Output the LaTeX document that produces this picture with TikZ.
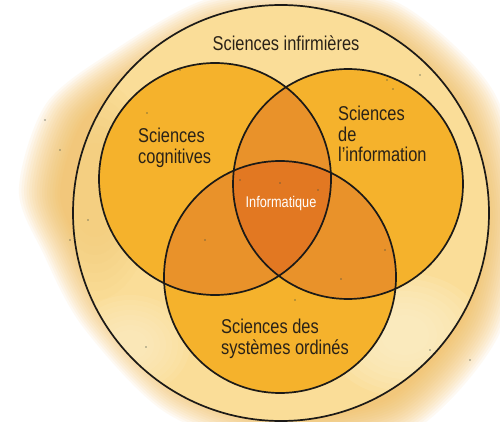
\documentclass[tikz,border=0pt]{standalone}
\usepackage{fontspec}
\newfontfamily\labfont[FakeStretch=0.82]{Liberation Sans}
\definecolor{ink}{HTML}{1C1A17}
\definecolor{labink}{HTML}{2A2218}
\definecolor{hazecol}{HTML}{F2BA52}
\definecolor{ringfill}{HTML}{FADD98}
\definecolor{ringlight}{HTML}{FDF1CC}
\definecolor{ringwarm}{HTML}{F4C36A}
\definecolor{onefill}{HTML}{F5B22C}
\definecolor{twofill}{HTML}{E9922A}
\definecolor{threefill}{HTML}{E27822}
\definecolor{speck}{HTML}{3E4A40}
\begin{document}
\begin{tikzpicture}[x=1pt,y=-1pt,
  outline/.style={draw=ink,line width=1.7pt},
  lab/.style={font=\labfont\fontsize{20}{20.5}\selectfont,text=labink,inner sep=0pt,align=left},
  core/.style={font=\labfont\fontsize{15.5}{16}\selectfont,text=white,inner sep=0pt},
  dot/.style={fill=speck,fill opacity=0.6}]
\useasboundingbox (0,0) rectangle (500,422);
\fill[white] (0,0) rectangle (500,422);

% circle centres
\coordinate (O) at (281,213);
\coordinate (A) at (215,179);
\coordinate (B) at (348,184);
\coordinate (C) at (280,277);

% watercolour wash around the outer circle, built up in thin layers
\begin{scope}[shift={(281,213)}]
  \foreach \s in {1.02,1.01,...,0.85}{
    \fill[hazecol,fill opacity=0.075,scale=\s]
      plot[smooth cycle] coordinates {(0:238) (30:245) (60:250) (90:235) (120:226)
        (150:224) (170:236) (185:258) (205:254) (225:228) (250:222) (275:222)
        (300:236) (330:240)};
  }
\end{scope}

% pale band inside the outer circle
\fill[ringfill] (O) circle[radius=208];
\begin{scope}
  \clip (O) circle[radius=208];
  \foreach \k in {0,...,7}{
    \fill[ringlight,fill opacity=0.16] (405,335) ellipse[x radius={80-8*\k},y radius={62-6*\k}];
    \fill[ringlight,fill opacity=0.12] (130,345) ellipse[x radius={60-6*\k},y radius={50-5*\k}];
    \fill[ringwarm,fill opacity=0.07] (95,190) ellipse[x radius={60-5*\k},y radius={110-9*\k}];
  }
\end{scope}

% filled regions
\fill[onefill] (A) circle[radius=116];
\fill[onefill] (B) circle[radius=115];
\fill[onefill] (C) circle[radius=116];
\begin{scope}
  \clip (A) circle[radius=116];
  \fill[twofill] (B) circle[radius=115];
  \fill[twofill] (C) circle[radius=116];
\end{scope}
\begin{scope}
  \clip (B) circle[radius=115];
  \fill[twofill] (C) circle[radius=116];
\end{scope}
\begin{scope}
  \clip (A) circle[radius=116];
  \clip (B) circle[radius=115];
  \fill[threefill] (C) circle[radius=116];
\end{scope}

% specks in the paint
\foreach \p in {(387,80),(393,89),(280,183),(385,250),(341,279),(147,113),(240,180),
  (318,190),(146,137),(430,350),(60,150),(88,220),(180,70),(295,300),(45,120),
  (70,240),(420,75),(146,347),(470,360),(205,240)}
  \fill[dot] \p circle[radius=0.9];

% outlines
\draw[outline] (O) circle[radius=208];
\draw[outline] (A) circle[radius=116];
\draw[outline] (B) circle[radius=115];
\draw[outline] (C) circle[radius=116];

% labels
\node[lab,anchor=base] (inf) at (286,51) {Sciences infirmières};
\node[lab,anchor=north west] (cog) at (138,128) {Sciences\\cognitives};
\node[lab,anchor=north west] (info) at (338,106) {Sciences\\de\\l’information};
\node[core,anchor=base] (core) at (281,207) {Informatique};
\node[lab,anchor=north west] (sys) at (221,319) {Sciences des\\systèmes ordinés};
\end{tikzpicture}
\end{document}
